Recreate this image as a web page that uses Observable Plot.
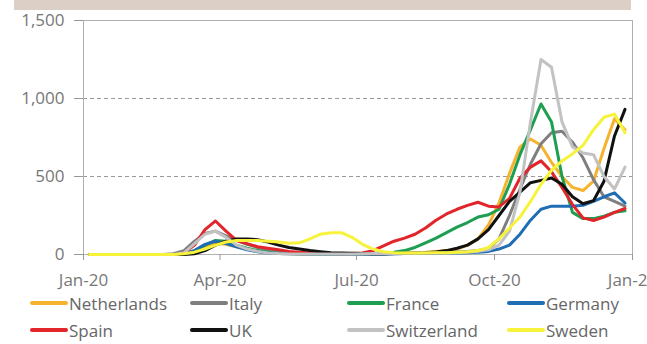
<!DOCTYPE html>
<html><head><meta charset="utf-8">
<script src="https://cdn.jsdelivr.net/npm/d3@7"></script>
<script src="https://cdn.jsdelivr.net/npm/@observablehq/plot@0.6"></script>
<style>
body{margin:0;background:#fff;font-family:"Open Sans",sans-serif;}
#wrap{position:relative;width:647px;height:344px;overflow:hidden;}
#band{position:absolute;left:14px;top:0;width:617px;height:10px;background:#dccfc5;}
#chart{position:absolute;left:0;top:0;}
#legend{position:absolute;left:0;top:0;width:647px;height:344px;}
.item{position:absolute;display:flex;align-items:center;font-size:17px;color:#666;height:22px;white-space:nowrap;}
.sw{width:38px;height:4px;border-radius:2px;margin-right:1px;}
</style></head>
<body>
<div id="wrap"><div id="band"></div><div id="chart"></div><div id="legend"></div></div>
<script>
const dates = ["2020-01-05","2020-01-12","2020-01-19","2020-01-26","2020-02-02","2020-02-09","2020-02-16","2020-02-23","2020-03-01","2020-03-08","2020-03-15","2020-03-22","2020-03-29","2020-04-05","2020-04-12","2020-04-19","2020-04-26","2020-05-03","2020-05-10","2020-05-17","2020-05-24","2020-05-31","2020-06-07","2020-06-14","2020-06-21","2020-06-28","2020-07-05","2020-07-12","2020-07-19","2020-07-26","2020-08-02","2020-08-09","2020-08-16","2020-08-23","2020-08-30","2020-09-06","2020-09-13","2020-09-20","2020-09-27","2020-10-04","2020-10-11","2020-10-18","2020-10-25","2020-11-01","2020-11-08","2020-11-15","2020-11-22","2020-11-29","2020-12-06","2020-12-13","2020-12-20","2020-12-27"];
const countries = ["Netherlands","Italy","France","Germany","Spain","UK","Switzerland","Sweden"];
const colors = ["#f5b32e","#7f7f7f","#1e9e50","#1f6db5","#e2242b","#111111","#c2c2c2","#f6f33a"];
const netherlands = [0,0,0,0,0,0,0,0,0,3,15,45,70,65,50,35,22,14,9,6,4,3,3,3,3,3,4,5,6,7,9,12,15,20,26,35,60,100,190,330,520,690,740,700,590,500,430,410,470,680,870,800];
const italy = [0,0,0,0,0,0,0,0,5,25,85,135,150,120,90,65,45,30,20,13,9,6,5,4,3,3,3,3,4,5,6,7,9,11,13,16,20,26,38,100,250,420,580,710,780,790,720,620,480,370,340,310];
const france = [0,0,0,0,0,0,0,0,0,5,25,60,90,85,60,40,25,15,10,7,5,4,4,4,4,4,5,7,10,15,25,45,75,105,140,175,205,240,255,290,450,640,800,965,850,500,270,230,230,245,270,280];
const germany = [0,0,0,0,0,0,0,0,0,5,25,65,85,70,50,30,18,10,7,5,4,3,3,3,3,3,3,3,4,5,6,6,7,8,9,10,12,15,20,35,60,130,220,290,310,310,310,315,340,370,395,330];
const spain = [0,0,0,0,0,0,0,0,0,10,60,160,215,150,90,70,50,40,30,20,15,10,8,6,5,6,10,25,55,85,105,130,170,220,260,290,315,335,310,305,360,490,560,600,530,430,320,235,218,240,270,295];
const uk = [0,0,0,0,0,0,0,0,0,0,5,25,60,85,100,100,95,80,60,45,35,25,18,12,10,8,6,5,5,6,8,10,12,16,25,40,60,100,160,250,340,400,460,475,490,450,370,325,345,470,760,930];
const switzerland = [0,0,0,0,0,0,0,0,0,10,70,130,150,110,60,35,20,10,6,4,3,3,3,3,3,4,5,6,7,7,8,8,9,10,10,12,15,20,30,60,150,400,850,1250,1200,850,690,650,640,500,420,560];
const sweden = [0,0,0,0,0,0,0,0,0,5,15,35,60,80,90,90,90,85,80,72,75,100,130,140,140,110,65,35,18,12,10,10,10,11,12,14,18,25,45,100,170,240,340,450,540,600,645,700,800,880,900,780];
const tickDates = ["2020-01-01","2020-04-01","2020-07-01","2020-10-01","2021-01-01"];
const yTicks = [0,500,1000,1500];
const gridValues = [500,1000];

const seriesList = [netherlands,italy,france,germany,spain,uk,switzerland,sweden];
const data = countries.flatMap((c,i)=>seriesList[i].map((v,j)=>({country:c,date:new Date(dates[j]),value:v})));

const chart = Plot.plot({
  width:647, height:290,
  marginLeft:83, marginRight:15, marginTop:20, marginBottom:36,
  style:{fontFamily:"'Open Sans',sans-serif", fontSize:"17px", color:"#777", background:"transparent"},
  x:{type:"utc", domain:[new Date(tickDates[0]), new Date(tickDates[4])]},
  y:{domain:[0,1500]},
  color:{domain:countries, range:colors},
  marks:[
    Plot.ruleY(gridValues,{stroke:"#9a9a9a", strokeDasharray:"4,3", strokeWidth:1}),
    Plot.frame({stroke:"#b0b0b0"}),
    Plot.axisY({ticks:yTicks, tickFormat:d3.format(","), tickSize:9, tickPadding:10, stroke:"#999", label:null}),
    Plot.axisX({ticks:tickDates.map(d=>new Date(d)), tickFormat:d3.utcFormat("%b-%y"), tickSize:6, tickPadding:13, stroke:"#999", label:null}),
    Plot.line(data,{x:"date", y:"value", z:"country", stroke:"country", strokeWidth:3, strokeLinejoin:"round"})
  ]
});
document.getElementById("chart").appendChild(chart);

const legendCols = [30,190,347,507];
const legendRows = [303,330];
const leg = document.getElementById("legend");
countries.forEach((c,i)=>{
  const it = document.createElement("div");
  it.className="item";
  it.style.left = legendCols[i%4]+"px";
  it.style.top = (legendRows[Math.floor(i/4)]-11)+"px";
  const sw = document.createElement("span");
  sw.className="sw"; sw.style.background=colors[i];
  const tx = document.createElement("span"); tx.textContent=c;
  it.appendChild(sw); it.appendChild(tx);
  leg.appendChild(it);
});
</script>
</body></html>
